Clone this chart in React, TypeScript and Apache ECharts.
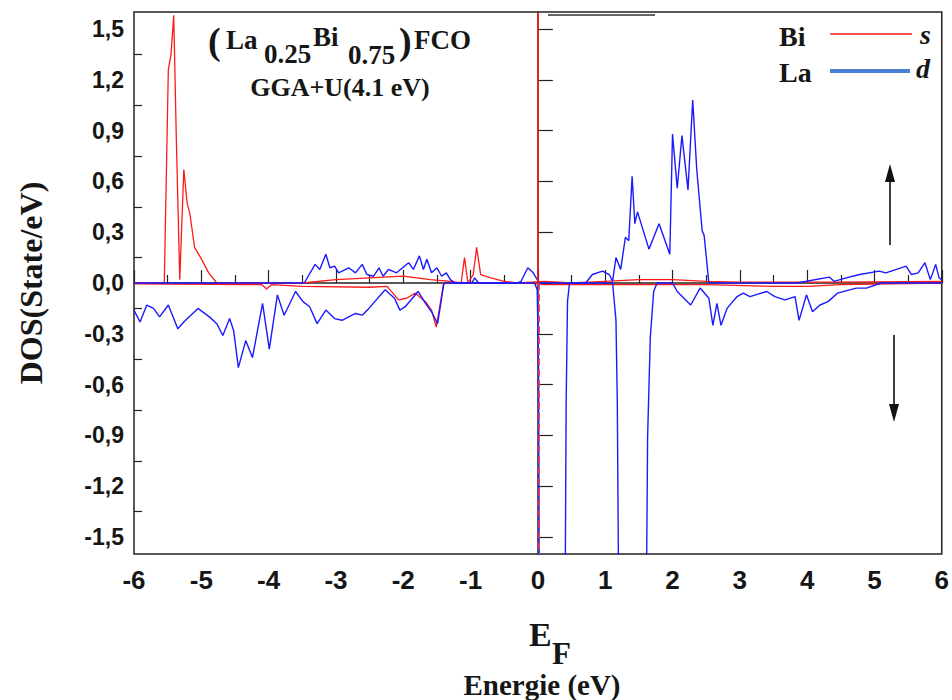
import React, { useEffect, useRef } from "react";
import * as echarts from "echarts";

// ---- Data (energy in eV, DOS in states/eV) ----
const biSUpE = [-6, -5.55, -5.49, -5.45, -5.41, -5.37, -5.32, -5.26, -5.21, -5.17, -5.10, -5.01, -4.89, -4.77, -3.5, -3.0, -2.5, -2.0, -1.6, -1.3, -1.14, -1.09, -1.04, -0.96, -0.91, -0.85, -0.7, -0.5, -0.3, 0.1, 0.5, 1.0, 1.5, 2.0, 2.5, 3.0, 4.5, 6];
const biSUpV = [0, 0, 1.26, 1.35, 1.58, 0.83, 0.02, 0.67, 0.47, 0.41, 0.21, 0.15, 0.06, 0, 0, 0.02, 0.03, 0.04, 0.02, 0.01, 0, 0.15, 0, 0.05, 0.21, 0.05, 0.03, 0.01, 0, 0.01, 0, 0.01, 0.02, 0.02, 0.01, 0.005, 0.005, 0.01];

const biSDownE = [-6, -4.3, -4.1, -4.03, -3.96, -3.5, -2.5, -2.24, -2.07, -1.95, -1.82, -1.67, -1.58, -1.51, -1.45, -1.4, -0.1, 0.1, 2.5, 3.5, 4.0, 4.5, 6];
const biSDownV = [-0.005, -0.01, -0.01, -0.035, -0.01, -0.02, -0.025, -0.02, -0.1, -0.09, -0.06, -0.11, -0.16, -0.26, -0.12, 0, 0, -0.01, -0.01, -0.02, -0.02, -0.01, 0];

const laDUpE = [-6, -3.47, -3.31, -3.24, -3.15, -3.09, -3.02, -2.96, -2.81, -2.71, -2.61, -2.54, -2.44, -2.36, -2.3, -2.22, -2.1, -1.92, -1.85, -1.76, -1.7, -1.65, -1.58, -1.5, -1.43, -1.36, -1.3, -1.23, -0.98, -0.94, -0.88, -0.3, -0.25, -0.15, -0.07, 0.02, 0.71, 0.81, 0.96, 1.06, 1.11, 1.16, 1.23, 1.3, 1.35, 1.4, 1.44, 1.48, 1.65, 1.8, 1.96, 2.0, 2.07, 2.14, 2.23, 2.3, 2.36, 2.44, 2.47, 2.54, 3.85, 3.99, 4.33, 4.4, 4.58, 4.78, 5.07, 5.17, 5.47, 5.55, 5.65, 5.75, 5.83, 5.91, 5.96, 6.0];
const laDUpV = [0, 0, 0.11, 0.08, 0.17, 0.09, 0.1, 0.06, 0.09, 0.06, 0.11, 0.05, 0.04, 0.09, 0.04, 0.08, 0.06, 0.12, 0.08, 0.16, 0.08, 0.14, 0.06, 0.09, 0.04, 0.06, 0.02, 0, 0, 0.03, 0, 0, 0.01, 0.09, 0.06, 0, 0, 0.05, 0.07, 0.05, 0.01, 0.15, 0.08, 0.27, 0.25, 0.63, 0.35, 0.42, 0.2, 0.35, 0.17, 0.88, 0.56, 0.87, 0.55, 1.08, 0.67, 0.31, 0.28, 0, 0, 0.01, 0.035, 0.01, 0.03, 0.05, 0.07, 0.06, 0.1, 0.05, 0.06, 0.12, 0.02, 0.11, 0.03, 0.02];

const laDDownE = [-6.0, -5.91, -5.81, -5.71, -5.62, -5.49, -5.35, -5.26, -5.05, -4.88, -4.77, -4.68, -4.58, -4.52, -4.45, -4.34, -4.24, -4.09, -3.99, -3.87, -3.77, -3.6, -3.49, -3.39, -3.28, -3.15, -3.02, -2.91, -2.71, -2.61, -2.51, -2.27, -2.13, -2.05, -1.97, -1.78, -1.67, -1.58, -1.49, -1.45, -1.4, -1.38, -0.05, -0.01, 0.01, 0.03, 0.39, 0.42, 0.44, 0.47, 1.11, 1.16, 1.18, 1.22, 1.59, 1.63, 1.67, 1.72, 1.77, 2.0, 2.07, 2.27, 2.41, 2.54, 2.6, 2.66, 2.72, 2.81, 2.96, 3.05, 3.15, 3.4, 3.52, 3.67, 3.82, 3.88, 3.99, 4.08, 4.19, 4.31, 4.45, 4.73, 4.88, 5.1, 6.0];
const laDDownV = [-0.16, -0.23, -0.13, -0.15, -0.2, -0.13, -0.27, -0.23, -0.15, -0.2, -0.24, -0.31, -0.21, -0.28, -0.5, -0.34, -0.44, -0.12, -0.39, -0.07, -0.19, -0.05, -0.11, -0.14, -0.24, -0.16, -0.21, -0.22, -0.18, -0.19, -0.15, -0.04, -0.09, -0.16, -0.14, -0.05, -0.12, -0.17, -0.24, -0.14, -0.01, 0, 0, -0.04, -0.51, -3, -3, -0.71, -0.11, 0, 0, -0.22, -0.71, -3, -3, -0.91, -0.32, -0.05, 0, 0, -0.05, -0.13, -0.03, -0.09, -0.25, -0.12, -0.25, -0.15, -0.08, -0.06, -0.08, -0.05, -0.08, -0.1, -0.08, -0.22, -0.07, -0.17, -0.13, -0.11, -0.06, -0.03, -0.03, 0, 0];

const yMajorTicks = [-1.5, -1.2, -0.9, -0.6, -0.3, 0, 0.3, 0.6, 0.9, 1.2, 1.5];
const yMinorTicks = [-1.35, -1.05, -0.75, -0.45, -0.15, 0.15, 0.45, 0.75, 1.05, 1.35];

const zip = (xs: number[], ys: number[]) => xs.map((x, i) => [x, ys[i]]);

const SERIF = "'Liberation Serif', 'Times New Roman', serif";
const SANS = "'Liberation Sans', Arial, sans-serif";
const INK = "#161616";

export default function App() {
  const ref = useRef<HTMLDivElement>(null);

  useEffect(() => {
    if (!ref.current) return;
    const chart = echarts.init(ref.current, null, { renderer: "svg" });
    const red = "#ff1a1a";
    const blue = "#1a1aff";

    const option: any = {
      animation: false,
      backgroundColor: "#ffffff",
      grid: {
        left: 134,
        top: 12,
        right: 6,
        bottom: 146,
        show: true,
        borderColor: "#222",
        borderWidth: 1.5,
      },
      xAxis: {
        type: "value",
        min: -6,
        max: 6,
        interval: 1,
        axisLine: { show: true, lineStyle: { color: "#222", width: 1.5 } },
        axisTick: { show: true, inside: true, length: 13, lineStyle: { color: "#222", width: 1.2 } },
        minorTick: { show: true, splitNumber: 2, length: 8, lineStyle: { color: "#222", width: 1.2 } },
        splitLine: { show: false },
        axisLabel: {
          margin: 13,
          color: INK,
          fontFamily: "'Liberation Sans Narrow', " + SANS,
          fontWeight: "bold",
          fontSize: 26,
        },
      },
      yAxis: [
        {
          type: "value",
          min: -1.6,
          max: 1.6,
          axisLine: { show: true, lineStyle: { color: "#222", width: 1.5 } },
          axisTick: {
            show: true,
            inside: true,
            length: 15,
            customValues: yMajorTicks,
            lineStyle: { color: "#222", width: 1.2 },
          },
          splitLine: { show: false },
          axisLabel: {
            customValues: yMajorTicks,
            margin: 10,
            color: INK,
            fontFamily: SANS,
            fontWeight: "bold",
            fontSize: 23,
            formatter: (v: number) => v.toFixed(1).replace(".", ","),
          },
        },
        {
          type: "value",
          min: -1.6,
          max: 1.6,
          position: "left",
          axisLine: { show: false },
          axisTick: {
            show: true,
            inside: true,
            length: 8,
            customValues: yMinorTicks,
            lineStyle: { color: "#222", width: 1.2 },
          },
          axisLabel: { show: false },
          splitLine: { show: false },
        },
      ],
      series: [
        {
          name: "Bi s up",
          type: "line",
          data: zip(biSUpE, biSUpV),
          showSymbol: false,
          lineStyle: { color: red, width: 1.3 },
          itemStyle: { color: red },
          z: 3,
          markLine: {
            silent: true,
            symbol: "none",
            label: { show: false },
            data: [
              [
                { coord: [0, 0], lineStyle: { color: red, width: 1.5, type: "solid" } },
                { coord: [0, 1.6] },
              ],
              [
                { coord: [0.02, 0], lineStyle: { color: "#e0307a", width: 1.8, type: "dashed" } },
                { coord: [0.02, -1.6] },
              ],
            ],
          },
        },
        {
          name: "Bi s down",
          type: "line",
          data: zip(biSDownE, biSDownV),
          showSymbol: false,
          lineStyle: { color: red, width: 1.3 },
          itemStyle: { color: red },
          z: 3,
        },
        {
          name: "La d up",
          type: "line",
          data: zip(laDUpE, laDUpV),
          showSymbol: false,
          lineStyle: { color: blue, width: 1.4 },
          itemStyle: { color: blue },
          z: 4,
        },
        {
          name: "La d down",
          type: "line",
          data: zip(laDDownE, laDDownV),
          showSymbol: false,
          lineStyle: { color: blue, width: 1.4 },
          itemStyle: { color: blue },
          z: 4,
        },
      ],
      graphic: [
        // stray segment at top
        { type: "line", shape: { x1: 548, y1: 15, x2: 655, y2: 15 }, style: { stroke: "#333", lineWidth: 1.3 } },
        // title
        { type: "text", x: 208, y: 41, style: { text: "(", font: `bold 38px ${SERIF}`, fill: INK, textAlign: "left", textVerticalAlign: "middle" } },
        { type: "text", x: 226, y: 40, style: { text: "La", font: `bold 27px ${SERIF}`, fill: INK, textAlign: "left", textVerticalAlign: "middle" } },
        { type: "text", x: 264, y: 54, style: { text: "0.25", font: `bold 27px ${SERIF}`, fill: INK, textAlign: "left", textVerticalAlign: "middle" } },
        { type: "text", x: 313, y: 37, style: { text: "Bi", font: `bold 27px ${SERIF}`, fill: INK, textAlign: "left", textVerticalAlign: "middle" } },
        { type: "text", x: 348, y: 55, style: { text: "0.75", font: `bold 27px ${SERIF}`, fill: INK, textAlign: "left", textVerticalAlign: "middle" } },
        { type: "text", x: 399, y: 41, style: { text: ")", font: `bold 38px ${SERIF}`, fill: INK, textAlign: "left", textVerticalAlign: "middle" } },
        { type: "text", x: 414, y: 40, style: { text: "FCO", font: `bold 27px ${SERIF}`, fill: INK, textAlign: "left", textVerticalAlign: "middle" } },
        { type: "text", x: 340, y: 87, style: { text: "GGA+U(4.1 eV)", font: `bold 26px ${SERIF}`, fill: INK, textAlign: "center", textVerticalAlign: "middle" } },
        // legend
        { type: "text", x: 779, y: 36, style: { text: "Bi", font: `bold 28px ${SERIF}`, fill: INK, textAlign: "left", textVerticalAlign: "middle" } },
        { type: "line", shape: { x1: 830, y1: 34, x2: 912, y2: 34 }, style: { stroke: red, lineWidth: 1.6 } },
        { type: "text", x: 920, y: 34, style: { text: "s", font: `italic bold 28px ${SERIF}`, fill: INK, textAlign: "left", textVerticalAlign: "middle" } },
        { type: "text", x: 779, y: 72, style: { text: "La", font: `bold 28px ${SERIF}`, fill: INK, textAlign: "left", textVerticalAlign: "middle" } },
        { type: "line", shape: { x1: 830, y1: 71, x2: 910, y2: 71 }, style: { stroke: "#4a7fd6", lineWidth: 4 } },
        { type: "text", x: 916, y: 68, style: { text: "d", font: `italic bold 28px ${SERIF}`, fill: INK, textAlign: "left", textVerticalAlign: "middle" } },
        // spin arrows
        { type: "line", shape: { x1: 890, y1: 245, x2: 890, y2: 178 }, style: { stroke: "#111", lineWidth: 1.6 } },
        { type: "polygon", shape: { points: [[890, 164], [885, 182], [895, 182]] }, style: { fill: "#111" } },
        { type: "line", shape: { x1: 894, y1: 335, x2: 894, y2: 408 }, style: { stroke: "#111", lineWidth: 1.6 } },
        { type: "polygon", shape: { points: [[894, 422], [889, 404], [899, 404]] }, style: { fill: "#111" } },
        // axis titles
        { type: "text", x: 31, y: 283, rotation: Math.PI / 2, style: { text: "DOS(State/eV)", font: `bold 32px ${SERIF}`, fill: INK, textAlign: "center", textVerticalAlign: "middle" } },
        { type: "text", x: 529, y: 634, style: { text: "E", font: `bold 34px ${SERIF}`, fill: INK, textAlign: "left", textVerticalAlign: "middle" } },
        { type: "text", x: 552, y: 653, style: { text: "F", font: `bold 31px ${SERIF}`, fill: INK, textAlign: "left", textVerticalAlign: "middle" } },
        { type: "text", x: 542, y: 685, style: { text: "Energie (eV)", font: `bold 29px ${SERIF}`, fill: INK, textAlign: "center", textVerticalAlign: "middle" } },
      ],
    };

    chart.setOption(option);
    return () => chart.dispose();
  }, []);

  return (
    <div
      ref={ref}
      style={{ position: "fixed", left: 0, top: 0, width: 952, height: 700, background: "#fff" }}
    />
  );
}
